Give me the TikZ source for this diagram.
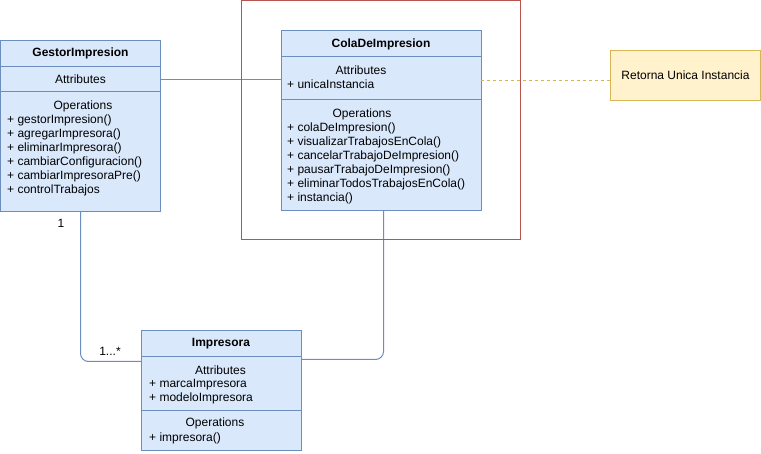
\documentclass[tikz,border=0pt]{standalone}
\usepackage{fontspec}
\setmainfont{Liberation Sans}
\usetikzlibrary{positioning}
\definecolor{classfill}{HTML}{DAE8FC}
\definecolor{classdraw}{HTML}{6C8EBF}
\definecolor{framec}{HTML}{B85450}
\definecolor{notefill}{HTML}{FFF2CC}
\definecolor{notedraw}{HTML}{D6B656}
\tikzset{
  box/.style={draw=classdraw,fill=classfill,line width=1pt,inner sep=0pt,outer sep=0pt,anchor=north west},
  head/.style={box,font=\fontsize{12}{14}\selectfont\bfseries},
  hd/.style={inner sep=0pt,anchor=center},
  mb/.style={inner sep=0pt,anchor=west},
  mult/.style={inner sep=0pt},
  assoc/.style={draw=classdraw,line width=1pt,rounded corners=8pt},
  dashline/.style={draw=notedraw,line width=1pt,dashed},
  redframe/.style={draw=framec,line width=1pt,inner sep=0pt,outer sep=0pt,anchor=north west},
  notebox/.style={draw=notedraw,fill=notefill,line width=1pt,inner sep=0pt,outer sep=0pt,anchor=north west},
}
\newcommand{\sect}[6][box]{\node[#1,minimum width=#5pt,minimum height=#6pt] (#2) at (#3,#4) {};}

\begin{document}
\begin{tikzpicture}[x=1pt,y=-1pt,font=\fontsize{12}{14}\selectfont]
  \useasboundingbox (0,0) rectangle (761,454);
  % GestorImpresion
  \node[head,minimum width=160pt,minimum height=26pt] (gestor) at (0.5,40.5) {GestorImpresion};
  \sect{gestorattr}{0.5}{66.5}{160}{25.5}
  \sect{gestorops}{0.5}{92}{160}{119.5}
  \node[hd] (gattr) at (80.5,79.5) {Attributes};
  \node[hd] (gophd) at (83,106.5) {Operations};
  \foreach \m [count=\i] in {+ gestorImpresion(),+ agregarImpresora(),+ eliminarImpresora(),+ cambiarConfiguracion(),+ cambiarImpresoraPre(),+ controlTrabajos}
    \node[mb] (gop\i) at (7,106.5+14*\i) {\m};
  % ColaDeImpresion
  \node[head,minimum width=200pt,minimum height=26pt] (cola) at (281,31) {ColaDeImpresion};
  \sect{colaattr}{281}{57}{200}{43}
  \sect{colaops}{281}{100}{200}{110.5}
  \node[hd] (cattr) at (361,69.8) {Attributes};
  \node[mb] (cat1) at (287,83.8) {+ unicaInstancia};
  \node[hd] (cophd) at (362,114.5) {Operations};
  \foreach \m [count=\i] in {+ colaDeImpresion(),+ visualizarTrabajosEnCola(),+ cancelarTrabajoDeImpresion(),+ pausarTrabajoDeImpresion(),+ eliminarTodosTrabajosEnCola(),+ instancia()}
    \node[mb] (cop\i) at (287,114.5+14*\i) {\m};
  % Impresora
  \node[head,minimum width=160pt,minimum height=26pt] (imp) at (141,330.5) {Impresora};
  \sect{impattr}{141}{356.5}{160}{54}
  \sect{impops}{141}{410.5}{160}{40}
  \node[hd] (iattr) at (220.5,370.5) {Attributes};
  \node[mb] (iat1) at (149,384.2) {+ marcaImpresora};
  \node[mb] (iat2) at (149,398.2) {+ modeloImpresora};
  \node[hd] (iophd) at (215,423.8) {Operations};
  \node[mb] (iop1) at (149,438.2) {+ impresora()};
  % nota
  \node[notebox,minimum width=150pt,minimum height=50pt] (note) at (610.5,50.5) {Retorna Unica Instancia};
  % relaciones
  \draw[assoc] (gestorattr.east) -- (gestorattr.east -| colaattr.west);
  \draw[assoc] (gestorops.south) |- ([yshift=-5pt]impattr.north west);
  \draw[assoc] ([xshift=2.5pt]colaops.south) |- ([yshift=-3pt]impattr.north east);
  \draw[dashline] ([yshift=-2pt]colaattr.east) coordinate (d0) -- (d0 -| note.west);
  \node[mult] (m1) at (61,223) {1};
  \node[mult] (m2) at (110,351) {1...*};
  % marco singleton
  \node[redframe,minimum width=279.5pt,minimum height=239pt] (frame) at (241,1) {};
\end{tikzpicture}
\end{document}
